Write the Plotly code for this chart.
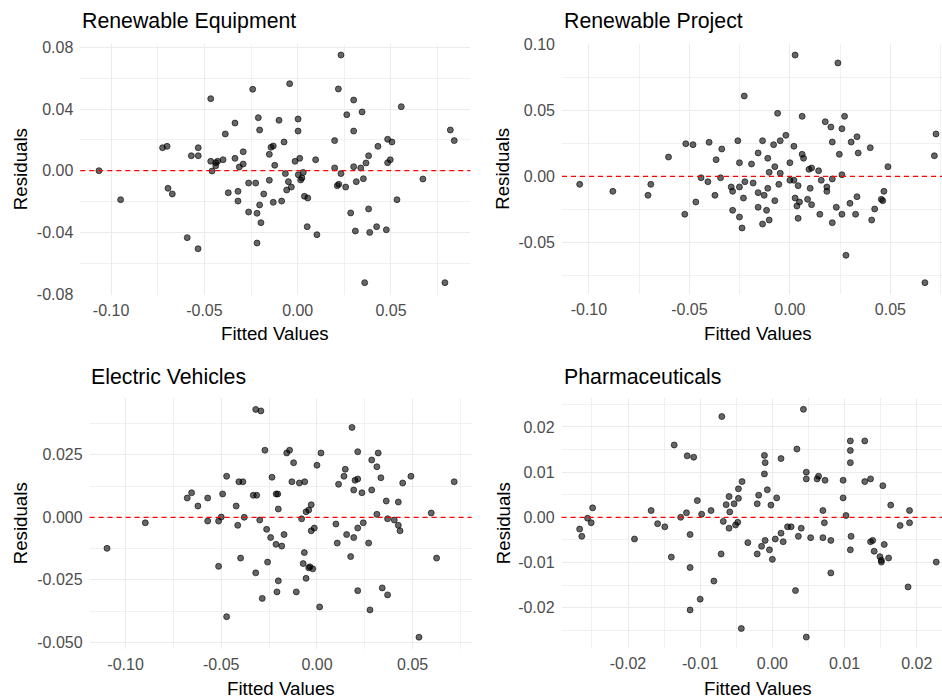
import plotly.graph_objects as go

# ---------------- data ----------------
sector_names = ["Renewable Equipment", "Renewable Project", "Electric Vehicles", "Pharmaceuticals"]

equip_fitted = [
    -0.1065, -0.0949, -0.0724, -0.0700, -0.0695, -0.0672, -0.0592, -0.0534, -0.0570, -0.0533,
    -0.0533, -0.0466, -0.0466, -0.0459, -0.0439, -0.0429, -0.0439, -0.0400, -0.0388, -0.0336,
    -0.0372, -0.0320, -0.0320, -0.0336, -0.0313, -0.0292, -0.0292, -0.0263, -0.0225, -0.0241,
    -0.0211, -0.0204, -0.0263, -0.0218, -0.0197, -0.0218, -0.0204, -0.0182, -0.0152, -0.0152,
    -0.0143, -0.0131, -0.0123, -0.0131, -0.0100, -0.0086, -0.0043, 0.0002, 0.0002, -0.0073,
    -0.0014, 0.0011, -0.0066, -0.0050, -0.0059, -0.0034, 0.0003, 0.0030, 0.0016, 0.0023,
    0.0036, 0.0054, 0.0051, 0.0103, 0.0096, 0.0232, 0.0218, 0.0198, 0.0198, 0.0232,
    0.0212, 0.0220, 0.0257, 0.0263, 0.0300, 0.0345, 0.0300, 0.0300, 0.0338, 0.0314,
    0.0352, 0.0366, 0.0380, 0.0430, 0.0482, 0.0505, 0.0496, 0.0482, 0.0555, 0.0284,
    0.0380, 0.0309, 0.0386, 0.0423, 0.0475, 0.0532, 0.0359, 0.0671, 0.0818, 0.0839,
    0.0789,
]
equip_resid = [
    0.0000, -0.0188, 0.0149, 0.0158, -0.0114, -0.0151, -0.0434, -0.0506, 0.0097, 0.0149,
    0.0097, 0.0467, 0.0061, -0.0002, 0.0032, 0.0061, 0.0052, 0.0071, 0.0238, 0.0309,
    -0.0143, -0.0134, -0.0197, 0.0080, 0.0024, 0.0043, 0.0123, -0.0080, -0.0080, 0.0528,
    0.0344, 0.0264, -0.0268, -0.0276, -0.0337, -0.0469, -0.0222, -0.0151, -0.0062, 0.0106,
    0.0152, 0.0160, 0.0035, -0.0205, 0.0327, -0.0197, 0.0564, 0.0335, 0.0257, 0.0186,
    0.0061, 0.0080, -0.0019, -0.0071, -0.0125, -0.0106, -0.0026, -0.0011, -0.0060, -0.0047,
    -0.0166, -0.0177, -0.0363, -0.0415, 0.0071, 0.0750, 0.0530, 0.0195, 0.0018, -0.0019,
    -0.0097, -0.0088, -0.0106, 0.0363, 0.0458, 0.0381, 0.0257, 0.0026, 0.0018, -0.0071,
    -0.0052, 0.0050, 0.0097, 0.0158, 0.0204, 0.0186, 0.0071, 0.0052, 0.0415, -0.0274,
    -0.0248, -0.0391, -0.0400, -0.0363, -0.0383, -0.0188, -0.0726, -0.0054, 0.0264, 0.0195,
    -0.0726,
]

project_fitted = [
    -0.1046, -0.0881, -0.0706, -0.0692, -0.0604, -0.0523, -0.0518, -0.0482, -0.0468, -0.0442,
    -0.0408, -0.0402, -0.0373, -0.0367, -0.0345, -0.0339, -0.0292, -0.0285, -0.0285, -0.0259,
    -0.0251, -0.0251, -0.0251, -0.0238, -0.0227, -0.0231, -0.0224, -0.0191, -0.0183, -0.0158,
    -0.0158, -0.0158, -0.0136, -0.0128, -0.0136, -0.0116, -0.0110, -0.0110, -0.0103, -0.0103,
    -0.0081, -0.0075, -0.0075, -0.0061, -0.0055, -0.0048, -0.0048, -0.0020, 0.0000, 0.0000,
    0.0020, 0.0020, 0.0026, 0.0026, 0.0035, 0.0041, 0.0041, 0.0048, 0.0061, 0.0061,
    0.0068, 0.0088, 0.0095, 0.0108, 0.0101, 0.0108, 0.0143, 0.0149, 0.0156, 0.0176,
    0.0204, 0.0184, 0.0184, 0.0211, 0.0211, 0.0211, 0.0231, 0.0239, 0.0246, 0.0259,
    0.0259, 0.0259, 0.0272, 0.0279, 0.0299, 0.0305, 0.0334, 0.0340, 0.0327, 0.0334,
    0.0400, 0.0407, 0.0422, 0.0455, 0.0462, 0.0468, 0.0488, 0.0672, 0.0719, 0.0727,
]
project_resid = [
    -0.0061, -0.0114, -0.0144, -0.0061, 0.0146, -0.0288, 0.0247, 0.0240, -0.0195, -0.0011,
    -0.0041, 0.0258, -0.0144, 0.0126, -0.0011, 0.0207, -0.0081, -0.0114, -0.0258, 0.0270,
    0.0103, -0.0081, -0.0309, -0.0392, 0.0609, -0.0165, -0.0041, 0.0093, -0.0051, 0.0177,
    -0.0124, -0.0235, 0.0270, -0.0144, -0.0362, -0.0258, 0.0137, -0.0091, 0.0030, -0.0332,
    0.0240, 0.0073, -0.0185, 0.0478, -0.0061, 0.0270, 0.0023, 0.0311, 0.0103, -0.0030,
    0.0228, -0.0030, 0.0920, -0.0165, -0.0225, -0.0071, -0.0319, -0.0195, 0.0455, 0.0167,
    0.0137, -0.0175, 0.0053, 0.0063, -0.0091, -0.0215, 0.0042, -0.0288, -0.0030, 0.0414,
    0.0374, -0.0081, -0.0114, 0.0260, -0.0020, -0.0352, -0.0235, 0.0860, 0.0167, 0.0361,
    0.0012, -0.0288, 0.0455, -0.0599, -0.0205, 0.0260, 0.0300, 0.0177, -0.0288, -0.0155,
    0.0217, -0.0332, -0.0248, -0.0175, -0.0185, -0.0114, 0.0073, -0.0807, 0.0156, 0.0321,
]

ev_fitted = [
    -0.1097, -0.0897, -0.0678, -0.0655, -0.0622, -0.0571, -0.0571, -0.0514, -0.0500, -0.0493,
    -0.0514, -0.0472, -0.0472, -0.0422, -0.0414, -0.0408, -0.0387, -0.0380, -0.0399, -0.0333,
    -0.0315, -0.0320, -0.0293, -0.0320, -0.0299, -0.0286, -0.0272, -0.0263, -0.0242, -0.0258,
    -0.0235, -0.0213, -0.0205, -0.0214, -0.0202, -0.0209, -0.0202, -0.0184, -0.0172, -0.0158,
    -0.0143, -0.0122, -0.0131, -0.0092, -0.0064, -0.0108, -0.0080, -0.0057, -0.0043, -0.0030,
    -0.0030, -0.0014, -0.0066, -0.0072, -0.0043, -0.0037, -0.0022, -0.0057, 0.0000, 0.0021,
    0.0014, 0.0099, 0.0106, 0.0113, 0.0141, 0.0148, 0.0155, 0.0176, 0.0183, 0.0192,
    0.0192, 0.0199, 0.0213, 0.0213, 0.0213, 0.0213, 0.0235, 0.0242, 0.0270, 0.0277,
    0.0286, 0.0286, 0.0313, 0.0320, 0.0334, 0.0313, 0.0341, 0.0362, 0.0369, 0.0369,
    0.0404, 0.0425, 0.0425, 0.0434, 0.0448, 0.0491, 0.0533, 0.0597, 0.0625, 0.0717,
]
ev_resid = [
    -0.0124, -0.0022, 0.0077, 0.0098, 0.0045, 0.0077, -0.0015, -0.0015, 0.0001, 0.0093,
    -0.0196, 0.0164, -0.0397, 0.0045, -0.0032, 0.0142, 0.0142, 0.0000, -0.0163, 0.0088,
    0.0088, 0.0431, 0.0425, -0.0222, -0.0011, -0.0324, 0.0268, -0.0048, -0.0081, -0.0179,
    0.0160, 0.0093, 0.0093, -0.0108, -0.0254, -0.0298, 0.0033, -0.0115, -0.0069, 0.0257,
    0.0268, 0.0218, 0.0142, 0.0137, 0.0142, -0.0298, -0.0006, 0.0022, 0.0029, 0.0050,
    -0.0054, -0.0043, -0.0141, -0.0185, -0.0202, -0.0198, -0.0206, -0.0244, 0.0208, 0.0257,
    -0.0358, -0.0027, -0.0103, 0.0132, 0.0164, 0.0192, -0.0069, -0.0157, 0.0359, 0.0109,
    -0.0081, 0.0148, 0.0153, 0.0262, -0.0043, -0.0293, 0.0098, -0.0022, -0.0103, -0.0370,
    0.0229, 0.0109, 0.0202, 0.0257, 0.0158, 0.0012, -0.0282, 0.0065, -0.0006, -0.0310,
    -0.0011, 0.0061, -0.0032, -0.0054, 0.0137, 0.0164, -0.0479, 0.0017, -0.0163, 0.0142,
]

pharma_fitted = [
    -0.0267, -0.0264, -0.0256, -0.0251, -0.0249, -0.0191, -0.0168, -0.0159, -0.0149, -0.0140,
    -0.0136, -0.0127, -0.0119, -0.0118, -0.0109, -0.0114, -0.0114, -0.0114, -0.0104, -0.0100,
    -0.0098, -0.0085, -0.0081, -0.0071, -0.0070, -0.0068, -0.0064, -0.0060, -0.0060, -0.0059,
    -0.0053, -0.0051, -0.0048, -0.0047, -0.0047, -0.0042, -0.0043, -0.0034, -0.0021, -0.0019,
    -0.0021, -0.0015, -0.0011, -0.0010, -0.0011, -0.0010, -0.0007, -0.0004, -0.0002, 0.0000,
    0.0004, 0.0006, 0.0012, 0.0012, 0.0015, 0.0021, 0.0026, 0.0032, 0.0034, 0.0036,
    0.0040, 0.0043, 0.0047, 0.0047, 0.0047, 0.0053, 0.0062, 0.0064, 0.0070, 0.0072,
    0.0070, 0.0073, 0.0081, 0.0081, 0.0098, 0.0098, 0.0102, 0.0108, 0.0108, 0.0108,
    0.0109, 0.0108, 0.0128, 0.0128, 0.0136, 0.0136, 0.0139, 0.0141, 0.0149, 0.0151,
    0.0151, 0.0153, 0.0155, 0.0161, 0.0164, 0.0177, 0.0188, 0.0190, 0.0190, 0.0227,
]
pharma_resid = [
    -0.0026, -0.0042, -0.0002, -0.0012, 0.0021, -0.0048, 0.0015, -0.0014, -0.0021, -0.0088,
    0.0160, 0.0000, 0.0010, 0.0136, 0.0133, -0.0038, -0.0111, -0.0205, 0.0037, -0.0181,
    0.0007, 0.0015, -0.0141, -0.0081, 0.0223, -0.0009, 0.0028, 0.0046, -0.0024, 0.0012,
    0.0030, -0.0017, -0.0011, 0.0042, 0.0063, 0.0079, -0.0246, -0.0056, 0.0030, 0.0049,
    -0.0081, -0.0064, 0.0137, 0.0121, 0.0096, -0.0051, 0.0061, -0.0072, 0.0027, -0.0093,
    -0.0048, 0.0043, 0.0130, -0.0035, -0.0054, -0.0021, -0.0021, -0.0162, 0.0151, -0.0042,
    -0.0024, 0.0239, 0.0100, 0.0085, -0.0265, -0.0045, 0.0085, 0.0091, 0.0015, -0.0012,
    -0.0045, 0.0082, -0.0051, -0.0123, 0.0082, 0.0043, 0.0004, 0.0169, 0.0148, 0.0121,
    -0.0042, -0.0072, 0.0169, 0.0079, 0.0085, -0.0054, -0.0051, -0.0075, -0.0087, -0.0095,
    -0.0099, 0.0070, -0.0060, -0.0090, 0.0027, -0.0018, -0.0154, 0.0015, -0.0012, -0.0099,
]

# tick labels (major) per panel
equip_xticks = [-0.10, -0.05, 0.00, 0.05]
equip_xlabels = ["-0.10", "-0.05", "0.00", "0.05"]
equip_yticks = [-0.08, -0.04, 0.00, 0.04, 0.08]
equip_ylabels = ["-0.08", "-0.04", "0.00", "0.04", "0.08"]

project_xticks = [-0.10, -0.05, 0.00, 0.05]
project_xlabels = ["-0.10", "-0.05", "0.00", "0.05"]
project_yticks = [-0.05, 0.00, 0.05, 0.10]
project_ylabels = ["-0.05", "0.00", "0.05", "0.10"]

ev_xticks = [-0.10, -0.05, 0.00, 0.05]
ev_xlabels = ["-0.10", "-0.05", "0.00", "0.05"]
ev_yticks = [-0.050, -0.025, 0.000, 0.025]
ev_ylabels = ["-0.050", "-0.025", "0.000", "0.025"]

pharma_xticks = [-0.02, -0.01, 0.00, 0.01, 0.02]
pharma_xlabels = ["-0.02", "-0.01", "0.00", "0.01", "0.02"]
pharma_yticks = [-0.02, -0.01, 0.00, 0.01, 0.02]
pharma_ylabels = ["-0.02", "-0.01", "0.00", "0.01", "0.02"]


def midpoints(vals):
    """Minor grid positions halfway between (and one step beyond) the major ticks."""
    step = vals[1] - vals[0]
    out = [vals[0] - step / 2]
    out += [v + step / 2 for v in vals]
    return out


# ---------------- layout geometry (pixels) ----------------
W, H = 942, 700
FONT = "Liberation Sans, Arial, sans-serif"

panels = [
    dict(name=sector_names[0], x=equip_fitted, y=equip_resid,
         xt=equip_xticks, xl=equip_xlabels, yt=equip_yticks, yl=equip_ylabels,
         px=(80.3, 470.3), py=(43.6, 294.7), xr=(-0.1165, 0.0925), yr=(-0.0804, 0.0824),
         ylab_x=20, xlab_cx=275.3, xlab_y=333, title_x=80, title_y=21),
    dict(name=sector_names[1], x=project_fitted, y=project_resid,
         xt=project_xticks, xl=project_xlabels, yt=project_yticks, yl=project_ylabels,
         px=(562.0, 942.0), py=(43.7, 294.0), xr=(-0.1134, 0.0757), yr=(-0.0893, 0.1006),
         ylab_x=503, xlab_cx=758, xlab_y=333, title_x=562, title_y=21),
    dict(name=sector_names[2], x=ev_fitted, y=ev_resid,
         xt=ev_xticks, xl=ev_xlabels, yt=ev_yticks, yl=ev_ylabels,
         px=(89.6, 471.6), py=(397.9, 648.7), xr=(-0.1188, 0.0808), yr=(-0.0525, 0.0477),
         ylab_x=20, xlab_cx=280.6, xlab_y=688, title_x=89, title_y=377),
    dict(name=sector_names[3], x=pharma_fitted, y=pharma_resid,
         xt=pharma_xticks, xl=pharma_xlabels, yt=pharma_yticks, yl=pharma_ylabels,
         px=(561.6, 942.0), py=(398.0, 648.4), xr=(-0.0292, 0.0235), yr=(-0.0290, 0.0264),
         ylab_x=503, xlab_cx=758, xlab_y=688, title_x=562, title_y=377),
]

fig = go.Figure()
annotations = []
shapes = []
layout_axes = {}

for i, p in enumerate(panels, start=1):
    sfx = "" if i == 1 else str(i)
    xa, ya = "x" + sfx, "y" + sfx

    fig.add_trace(go.Scatter(
        x=p["x"], y=p["y"], mode="markers", xaxis=xa, yaxis=ya,
        marker=dict(size=6, color="rgba(0,0,0,0.6)",
                    line=dict(width=1, color="rgba(0,0,0,0.6)")),
        showlegend=False, hoverinfo="x+y",
    ))

    xdom = [p["px"][0] / W, min(p["px"][1] / W, 1.0)]
    ydom = [1 - p["py"][1] / H, 1 - p["py"][0] / H]

    common = dict(showgrid=True, gridcolor="#EBEBEB", gridwidth=1.1,
                  zeroline=False, showline=False, ticks="", automargin=False,
                  tickfont=dict(family=FONT, size=16, color="#4D4D4D"))

    layout_axes["xaxis" + sfx] = dict(
        domain=xdom, range=list(p["xr"]), anchor=ya,
        tickmode="array", tickvals=p["xt"], ticktext=p["xl"],
        minor=dict(tickvals=midpoints(p["xt"]), showgrid=True,
                   gridcolor="#F0F0F0", gridwidth=0.7),
        ticklabelstandoff=4, **common)
    layout_axes["yaxis" + sfx] = dict(
        domain=ydom, range=list(p["yr"]), anchor=xa,
        tickmode="array", tickvals=p["yt"], ticktext=p["yl"],
        minor=dict(tickvals=midpoints(p["yt"]), showgrid=True,
                   gridcolor="#F0F0F0", gridwidth=0.7),
        ticklabelstandoff=6, **common)

    # zero reference line
    shapes.append(dict(type="line", xref=xa + " domain", x0=0, x1=1,
                       yref=ya, y0=0, y1=0,
                       line=dict(color="#FF0000", width=1.3, dash="5px,4px")))

    # panel title
    annotations.append(dict(text=p["name"], xref="paper", yref="paper",
                            x=p["title_x"] / W, y=1 - p["title_y"] / H,
                            xanchor="left", yanchor="middle", showarrow=False,
                            font=dict(family=FONT, size=21.3, color="#000000")))
    # axis titles
    annotations.append(dict(text="Fitted Values", xref="paper", yref="paper",
                            x=p["xlab_cx"] / W, y=1 - p["xlab_y"] / H,
                            xanchor="center", yanchor="middle", showarrow=False,
                            font=dict(family=FONT, size=18.7, color="#000000")))
    annotations.append(dict(text="Residuals", xref="paper", yref="paper",
                            x=p["ylab_x"] / W, y=1 - (p["py"][0] + p["py"][1]) / 2 / H,
                            xanchor="center", yanchor="middle", showarrow=False,
                            textangle=-90,
                            font=dict(family=FONT, size=18.7, color="#000000")))

fig.update_layout(
    width=W, height=H,
    margin=dict(l=0, r=0, t=0, b=0, pad=0, autoexpand=False),
    paper_bgcolor="white", plot_bgcolor="white",
    font=dict(family=FONT),
    annotations=annotations, shapes=shapes,
    **layout_axes,
)

fig.write_html("out.html")
